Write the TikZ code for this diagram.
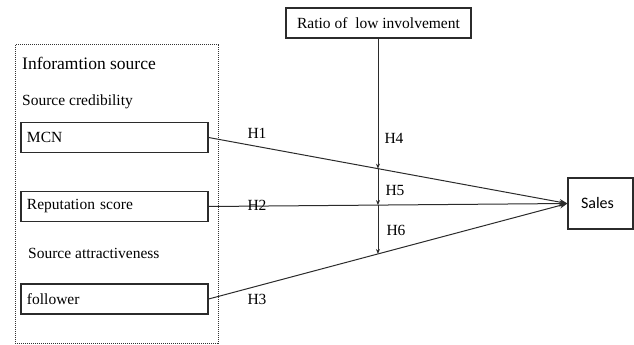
\documentclass[tikz,border=0pt]{standalone}
\usepackage{fontspec}
\setmainfont{Liberation Serif}
\newfontfamily\salesfont{Carlito}
\usetikzlibrary{arrows.meta}
\definecolor{boxline}{HTML}{2B2B2B}
\definecolor{dotline}{HTML}{333333}
\tikzset{
  varbox/.style={draw=boxline, line width=1.2pt, minimum height=30pt,
                 text width=175pt, inner sep=6pt, align=left,
                 font=\fontsize{15.5}{17}\selectfont},
  modbox/.style={draw=boxline, line width=1.2pt, minimum width=185pt,
                 minimum height=30pt, font=\fontsize{15.5}{17}\selectfont},
  salesbox/.style={draw=boxline, line width=1.2pt, minimum height=51pt,
                   text width=39pt, inner sep=13pt, align=left,
                   font=\salesfont\fontsize{16}{18}\selectfont},
  plaintext/.style={inner sep=0pt, anchor=west, font=\fontsize{15.5}{17}\selectfont},
  hlabel/.style={inner sep=0pt, font=\fontsize{15.5}{17}\selectfont},
  link/.style={draw=boxline, line width=1pt, -{Stealth[length=8pt, width=6pt]}},
  modarrow/.style={draw=boxline, line width=0.8pt, -{Stealth[length=5pt, width=4pt]}},
}

\begin{document}
\begin{tikzpicture}[x=1pt, y=-1pt]
  \useasboundingbox (0,0) rectangle (634,345);
  % information source group
  \draw[dotline, densely dotted, line width=1pt] (15,45) rectangle (218,343);
  \node[plaintext, font=\fontsize{17.5}{20}\selectfont] (title) at (22,63) {Inforamtion source};
  \node[plaintext] (cred) at (22,102) {Source credibility};
  \node[varbox] (mcn) at (114.5,137.5) {MCN};
  \node[varbox] (rep) at (114.5,206.5) {Reputation score};
  \node[plaintext] (attr) at (28,253) {Source attractiveness};
  \node[varbox] (fol) at (114.5,299) {follower};

  % moderator and outcome
  \node[modbox] (ratio) at (378.5,23) {Ratio of~ low involvement};
  \node[salesbox] (sales) at (600.5,203.5) {Sales};

  % main paths
  \draw[link] (mcn.east) -- (sales.west) coordinate[pos=0.472] (m1);
  \draw[link] (rep.east) -- (sales.west) coordinate[pos=0.472] (m2);
  \draw[link] (fol.east) -- (sales.west) coordinate[pos=0.472] (m3);

  % moderating paths
  \draw[modarrow] (m1 |- ratio.south) -- (m1);
  \draw[modarrow] (m1) -- (m2);
  \draw[modarrow] (m2) -- (m3);

  \node[hlabel] (h1) at (257,133) {H1};
  \node[hlabel] (h2) at (257,205) {H2};
  \node[hlabel] (h3) at (257,299) {H3};
  \node[hlabel] (h4) at (394,138) {H4};
  \node[hlabel] (h5) at (395,190) {H5};
  \node[hlabel] (h6) at (396,230) {H6};
\end{tikzpicture}
\end{document}
